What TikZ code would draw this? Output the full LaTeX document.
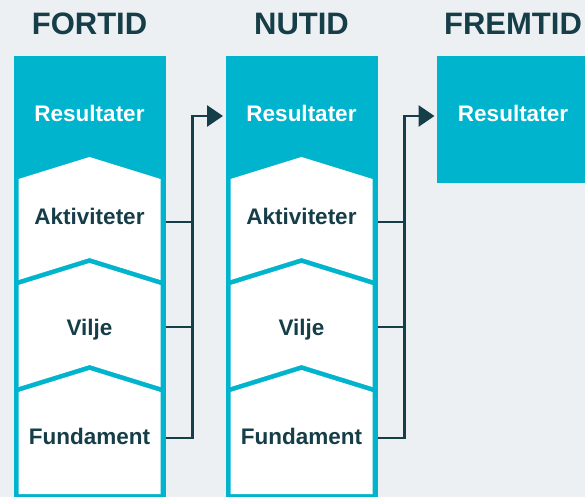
\documentclass[tikz,border=0pt]{standalone}
\usepackage{fontspec}
\setmainfont{Liberation Sans}
\usetikzlibrary{arrows.meta}

\definecolor{brandteal}{HTML}{00B4CD}
\definecolor{inkdark}{HTML}{163E48}
\definecolor{paper}{HTML}{EDF0F2}

% One full time column: teal frame, Resultater on teal, three white chevron panels.
% #1 = left edge, #2 = name suffix
\newcommand\stagecolumn[2]{%
  \node[colbox, minimum height=441pt, anchor=north west] (col#2) at (#1,56) {};
  \fill[white] (#1+5,179) -- (#1+76,157) -- (#1+147,179) -- (#1+147,280)
               -- (#1+76,258) -- (#1+5,280) -- cycle;
  \fill[white] (#1+5,285) -- (#1+76,263) -- (#1+147,285) -- (#1+147,387)
               -- (#1+76,365) -- (#1+5,387) -- cycle;
  \fill[white] (#1+5,392) -- (#1+76,370) -- (#1+147,392) -- (#1+147,494)
               -- (#1+5,494) -- cycle;
  \node[reslbl] (res#2) at (#1+76,122) {Resultater};
  \node[lbl] (akt#2) at (#1+76,224) {Aktiviteter};
  \node[lbl] (vil#2) at (#1+76,335) {Vilje};
  \node[lbl] (fun#2) at (#1+76,444) {Fundament};
  \coordinate (pa#2) at (#1+152,222);
  \coordinate (pv#2) at (#1+152,327);
  \coordinate (pf#2) at (#1+152,438);
  \coordinate (top#2) at (#1+179,116);
}

\begin{document}
\begin{tikzpicture}[x=1pt,y=-1pt,
  colbox/.style={fill=brandteal, draw=none, minimum width=152pt,
                 inner sep=0pt, outer sep=0pt},
  head/.style={font=\fontsize{31}{31}\selectfont\bfseries, text=inkdark,
               anchor=base, inner sep=0pt},
  lbl/.style={font=\fontsize{22.5}{22.5}\selectfont\bfseries, text=inkdark,
              anchor=base, inner sep=0pt},
  reslbl/.style={lbl, text=white},
  link/.style={draw=inkdark, line width=2.8pt},
  arrowlink/.style={link, -{Triangle[length=16pt,width=21pt]}, shorten >=2.5pt}
]
\fill[paper] (0,0) rectangle (585,497);
\useasboundingbox (0,0) rectangle (585,497);

% headings
\node[head] (hpast) at (89.5,35) {FORTID};
\node[head] (hnow) at (301.5,35) {NUTID};
\node[head] (hfuture) at (513,35) {FREMTID};

% columns
\stagecolumn{13.5}{1}
\stagecolumn{225.5}{2}
\node[colbox, minimum height=127pt, anchor=north west] (col3) at (437,56) {};
\node[reslbl] (res3) at (513,122) {Resultater};

% connectors feeding the next period's results
\foreach \c/\n in {1/2, 2/3}{
  \draw[link] (pa\c) -- (pa\c -| top\c);
  \draw[link] (pv\c) -- (pv\c -| top\c);
  \draw[arrowlink] (pf\c) -| (top\c) -- (col\n.west |- top\c);
}
\end{tikzpicture}
\end{document}
